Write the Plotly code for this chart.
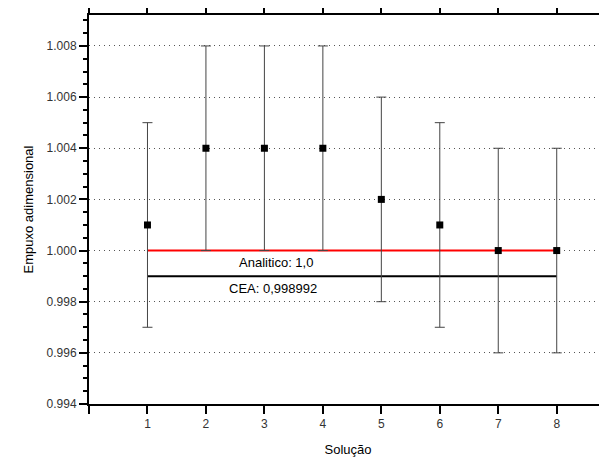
import plotly.graph_objects as go

solucao = [1, 2, 3, 4, 5, 6, 7, 8]
empuxo = [1.001, 1.004, 1.004, 1.004, 1.002, 1.001, 1.000, 1.000]
erro = [0.004, 0.004, 0.004, 0.004, 0.004, 0.004, 0.004, 0.004]
analitico = 1.0
cea = 0.998992
y_ticks = [0.994, 0.996, 0.998, 1.000, 1.002, 1.004, 1.006, 1.008]

font = "Liberation Sans, Arial, sans-serif"

fig = go.Figure()
fig.add_trace(go.Scatter(
    x=[solucao[0], solucao[-1]], y=[analitico, analitico], mode="lines",
    line=dict(color="#ff0000", width=2), showlegend=False, hoverinfo="skip"))
fig.add_trace(go.Scatter(
    x=[solucao[0], solucao[-1]], y=[cea, cea], mode="lines",
    line=dict(color="#000000", width=2), showlegend=False, hoverinfo="skip"))
fig.add_trace(go.Scatter(
    x=solucao, y=empuxo, mode="markers",
    marker=dict(symbol="square", size=7, color="black"),
    error_y=dict(type="data", array=erro, visible=True, color="#444444",
                 thickness=1, width=5),
    showlegend=False))

fig.add_annotation(x=3.2, y=0.99952, text="Analitico: 1,0", showarrow=False,
                   font=dict(family=font, size=13, color="black"))
fig.add_annotation(x=3.14, y=0.9985, text="CEA: 0,998992", showarrow=False,
                   font=dict(family=font, size=13, color="black"))

xr = [0, 8.86]
tickfont = dict(family=font, size=12, color="#333333")
fig.update_layout(
    width=599, height=455,
    margin=dict(l=81, r=0, t=7, b=59, autoexpand=False),
    paper_bgcolor="white", plot_bgcolor="white",
    font=dict(family=font, size=12, color="#333333"),
    xaxis=dict(
        range=xr, tickvals=[0] + solucao, ticktext=[""] + [str(s) for s in solucao],
        ticks="outside", ticklen=8, tickwidth=2, tickcolor="black",
        tickfont=tickfont, automargin=False, mirror="ticks",
        showline=True, linecolor="black", linewidth=2,
        showgrid=False, zeroline=False,
        title=dict(text="Solução", font=dict(family=font, size=13, color="black"), standoff=14),
    ),
    yaxis=dict(
        range=[0.994, 1.00921], tickvals=y_ticks,
        ticktext=[f"{v:.3f}" for v in y_ticks],
        ticks="outside", ticklen=8, tickwidth=2, tickcolor="black",
        tickfont=tickfont, automargin=False,
        minor=dict(dtick=0.0005, tick0=0.994, ticks="outside", ticklen=4,
                   tickwidth=2, tickcolor="black", showgrid=False),
        showline=True, linecolor="black", linewidth=2,
        showgrid=True, gridcolor="#555555", griddash="1px,4px", gridwidth=1,
        zeroline=False,
        title=dict(text="Empuxo adimensional", font=dict(family=font, size=13, color="black"), standoff=10),
    ),
)

fig.write_html("out.html")
